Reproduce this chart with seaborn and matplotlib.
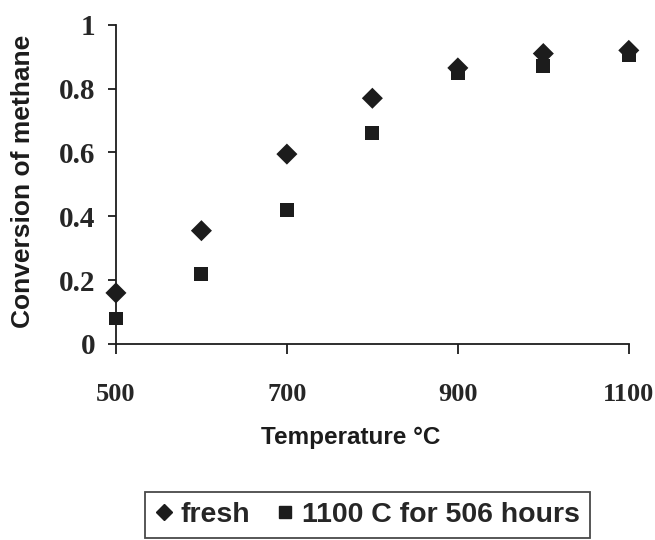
import matplotlib
matplotlib.use("Agg")
import matplotlib.pyplot as plt
import seaborn as sns
import pandas as pd

temperature = [500, 600, 700, 800, 900, 1000, 1100]
fresh = [0.16, 0.355, 0.595, 0.77, 0.865, 0.91, 0.92]
aged = [0.08, 0.22, 0.42, 0.66, 0.85, 0.87, 0.905]
series_names = ["fresh", "1100 C for 506 hours"]
x_ticks = [500, 700, 900, 1100]
y_ticks = [0, 0.2, 0.4, 0.6, 0.8, 1]
y_tick_labels = ["0", "0.2", "0.4", "0.6", "0.8", "1"]

df = pd.DataFrame({
    "Temperature": temperature * 2,
    "Conversion": fresh + aged,
    "Series": [series_names[0]] * len(fresh) + [series_names[1]] * len(aged),
})

sns.set_style("white")
plt.rcParams["font.family"] = ["Liberation Sans", "DejaVu Sans"]

fig = plt.figure(figsize=(6.55, 5.4), dpi=100)
ax = fig.add_axes([0.177, 0.363, 0.783, 0.591])

ink = "#1c1c1c"
sns.scatterplot(data=df[df.Series == series_names[1]], x="Temperature", y="Conversion",
                marker="s", s=100, color=ink, edgecolor="none", ax=ax, zorder=3,
                legend=False)
sns.scatterplot(data=df[df.Series == series_names[0]], x="Temperature", y="Conversion",
                marker="D", s=115, color=ink, edgecolor="none", ax=ax, zorder=4,
                legend=False)

ax.set_xlim(500, 1100)
ax.set_ylim(0, 1)
ax.set_xticks(x_ticks)
ax.set_xticklabels([str(t) for t in x_ticks], fontfamily="Liberation Serif",
                   fontweight="bold", fontsize=19)
ax.set_yticks(y_ticks)
ax.set_yticklabels(y_tick_labels, fontfamily="Liberation Serif",
                   fontweight="bold", fontsize=21)
ax.tick_params(axis="y", direction="out", length=6, width=1.3, color=ink,
               left=True, pad=9)
ax.tick_params(axis="x", direction="out", length=7, width=1.3, color=ink,
               bottom=True, pad=21)
for side in ["top", "right"]:
    ax.spines[side].set_visible(False)
for side in ["left", "bottom"]:
    ax.spines[side].set_color(ink)
    ax.spines[side].set_linewidth(1.3)
for c in ax.collections:
    c.set_clip_on(False)

ax.set_xlabel("Temperature \u00b0C", fontsize=17.5, fontweight="bold", color=ink)
ax.xaxis.set_label_coords((351 - 116) / 513, -(426 - 344) / 319)
ax.set_ylabel("Conversion of methane", fontsize=19, fontweight="bold", color=ink)
ax.yaxis.set_label_coords(-(116 - 35) / 513, (344 - 181) / 319)

handles = [
    plt.Line2D([], [], marker="D", linestyle="none", color=ink, markersize=8),
    plt.Line2D([], [], marker="s", linestyle="none", color=ink, markersize=8),
]
leg = fig.legend(handles, series_names, loc="upper center", bbox_to_anchor=(0.561, 1 - 492 / 540),
                 ncol=2, frameon=True, fancybox=False, borderaxespad=0,
                 prop={"weight": "bold", "size": 20.5}, handlelength=0.6,
                 handletextpad=0.3, columnspacing=0.9, borderpad=0.35)
leg.get_frame().set_edgecolor(ink)
leg.get_frame().set_linewidth(1.3)

fig.savefig("out.png", dpi=100)
